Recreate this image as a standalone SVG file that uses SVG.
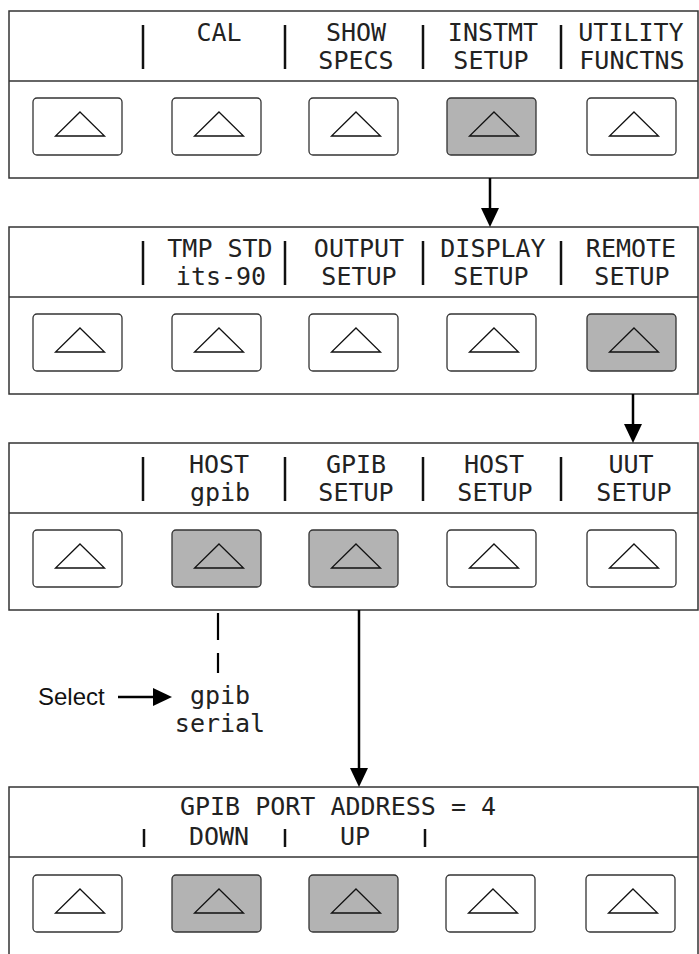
<svg xmlns="http://www.w3.org/2000/svg" width="699" height="954" viewBox="0 0 699 954">
<style>
.panel{fill:#fff;stroke:#333;stroke-width:1.5}
.div{stroke:#333;stroke-width:1.5}
.bar{stroke:#111;stroke-width:2.5}
.btn{fill:#fff;stroke:#333;stroke-width:1.3}
.btn.on{fill:#b3b3b3}
.tri{fill:none;stroke:#111;stroke-width:1.3;stroke-linejoin:miter}
.lcd{font-family:"DejaVu Sans Mono","Liberation Mono",monospace;font-size:25px;fill:#222;text-anchor:middle}
.lbl{font-family:"Liberation Sans",Arial,sans-serif;font-size:24px;fill:#111}
.conn{stroke:#000;stroke-width:2.5;fill:none}
.dash{stroke:#000;stroke-width:2.2;fill:none;stroke-dasharray:27 13}
</style>
<defs>
<marker id="ah" markerUnits="userSpaceOnUse" markerWidth="20" markerHeight="18" refX="9" refY="9" orient="auto">
<path d="M0,0 L19,9 L0,18 z" fill="#000"/>
</marker>
</defs>

<g id="panel1">
<rect class="panel" x="9" y="11" width="689" height="167"/>
<line class="div" x1="9" y1="81" x2="698" y2="81"/>
<line class="bar" x1="143" y1="25" x2="143" y2="69"/>
<line class="bar" x1="285" y1="25" x2="285" y2="69"/>
<line class="bar" x1="423" y1="25" x2="423" y2="69"/>
<line class="bar" x1="561" y1="25" x2="561" y2="69"/>
<text class="lcd" x="219" y="41">CAL</text>
<text class="lcd" x="356" y="41">SHOW</text>
<text class="lcd" x="356" y="69">SPECS</text>
<text class="lcd" x="493" y="41">INSTMT</text>
<text class="lcd" x="491" y="69">SETUP</text>
<text class="lcd" x="631" y="41">UTILITY</text>
<text class="lcd" x="632" y="69">FUNCTNS</text>
<g id="p1b1"><rect class="btn" x="33" y="98" width="89" height="57" rx="4"/><path class="tri" d="M80,112 L104.5,136 L55.5,136 z"/></g>
<g id="p1b2"><rect class="btn" x="172" y="98" width="89" height="57" rx="4"/><path class="tri" d="M219,112 L243.5,136 L194.5,136 z"/></g>
<g id="p1b3"><rect class="btn" x="309" y="98" width="89" height="57" rx="4"/><path class="tri" d="M356,112 L380.5,136 L331.5,136 z"/></g>
<g id="p1b4"><rect class="btn on" x="447" y="98" width="89" height="57" rx="4"/><path class="tri" d="M494,112 L518.5,136 L469.5,136 z"/></g>
<g id="p1b5"><rect class="btn" x="587" y="98" width="89" height="57" rx="4"/><path class="tri" d="M634,112 L658.5,136 L609.5,136 z"/></g>
</g>

<g id="panel2">
<rect class="panel" x="9" y="227" width="689" height="167"/>
<line class="div" x1="9" y1="297" x2="698" y2="297"/>
<line class="bar" x1="143" y1="241" x2="143" y2="285"/>
<line class="bar" x1="285" y1="241" x2="285" y2="285"/>
<line class="bar" x1="423" y1="241" x2="423" y2="285"/>
<line class="bar" x1="561" y1="241" x2="561" y2="285"/>
<text class="lcd" x="220" y="257">TMP STD</text>
<text class="lcd" x="221" y="285">its-90</text>
<text class="lcd" x="359" y="257">OUTPUT</text>
<text class="lcd" x="359" y="285">SETUP</text>
<text class="lcd" x="493" y="257">DISPLAY</text>
<text class="lcd" x="491" y="285">SETUP</text>
<text class="lcd" x="631" y="257">REMOTE</text>
<text class="lcd" x="632" y="285">SETUP</text>
<g id="p2b1"><rect class="btn" x="33" y="314" width="89" height="57" rx="4"/><path class="tri" d="M80,328 L104.5,352 L55.5,352 z"/></g>
<g id="p2b2"><rect class="btn" x="172" y="314" width="89" height="57" rx="4"/><path class="tri" d="M219,328 L243.5,352 L194.5,352 z"/></g>
<g id="p2b3"><rect class="btn" x="309" y="314" width="89" height="57" rx="4"/><path class="tri" d="M356,328 L380.5,352 L331.5,352 z"/></g>
<g id="p2b4"><rect class="btn" x="447" y="314" width="89" height="57" rx="4"/><path class="tri" d="M494,328 L518.5,352 L469.5,352 z"/></g>
<g id="p2b5"><rect class="btn on" x="587" y="314" width="89" height="57" rx="4"/><path class="tri" d="M634,328 L658.5,352 L609.5,352 z"/></g>
</g>

<g id="panel3">
<rect class="panel" x="9" y="443" width="689" height="167"/>
<line class="div" x1="9" y1="513" x2="698" y2="513"/>
<line class="bar" x1="143" y1="457" x2="143" y2="501"/>
<line class="bar" x1="285" y1="457" x2="285" y2="501"/>
<line class="bar" x1="423" y1="457" x2="423" y2="501"/>
<line class="bar" x1="561" y1="457" x2="561" y2="501"/>
<text class="lcd" x="219" y="473">HOST</text>
<text class="lcd" x="220" y="501">gpib</text>
<text class="lcd" x="356" y="473">GPIB</text>
<text class="lcd" x="356" y="501">SETUP</text>
<text class="lcd" x="494" y="473">HOST</text>
<text class="lcd" x="495" y="501">SETUP</text>
<text class="lcd" x="631" y="473">UUT</text>
<text class="lcd" x="634" y="501">SETUP</text>
<g id="p3b1"><rect class="btn" x="33" y="530" width="89" height="57" rx="4"/><path class="tri" d="M80,544 L104.5,568 L55.5,568 z"/></g>
<g id="p3b2"><rect class="btn on" x="172" y="530" width="89" height="57" rx="4"/><path class="tri" d="M219,544 L243.5,568 L194.5,568 z"/></g>
<g id="p3b3"><rect class="btn on" x="309" y="530" width="89" height="57" rx="4"/><path class="tri" d="M356,544 L380.5,568 L331.5,568 z"/></g>
<g id="p3b4"><rect class="btn" x="447" y="530" width="89" height="57" rx="4"/><path class="tri" d="M494,544 L518.5,568 L469.5,568 z"/></g>
<g id="p3b5"><rect class="btn" x="587" y="530" width="89" height="57" rx="4"/><path class="tri" d="M634,544 L658.5,568 L609.5,568 z"/></g>
</g>

<g id="panel4">
<rect class="panel" x="9" y="787" width="689" height="170"/>
<line class="div" x1="9" y1="857" x2="698" y2="857"/>
<text class="lcd" x="338" y="815">GPIB PORT ADDRESS = 4</text>
<line class="bar" x1="144" y1="829" x2="144" y2="847"/>
<line class="bar" x1="285" y1="829" x2="285" y2="847"/>
<line class="bar" x1="425" y1="829" x2="425" y2="847"/>
<text class="lcd" x="219" y="845">DOWN</text>
<text class="lcd" x="355" y="845">UP</text>
<g id="p4b1"><rect class="btn" x="33" y="875" width="89" height="57" rx="4"/><path class="tri" d="M80,889 L104.5,913 L55.5,913 z"/></g>
<g id="p4b2"><rect class="btn on" x="172" y="875" width="89" height="57" rx="4"/><path class="tri" d="M219,889 L243.5,913 L194.5,913 z"/></g>
<g id="p4b3"><rect class="btn on" x="309" y="875" width="89" height="57" rx="4"/><path class="tri" d="M356,889 L380.5,913 L331.5,913 z"/></g>
<g id="p4b4"><rect class="btn" x="446" y="875" width="89" height="57" rx="4"/><path class="tri" d="M493,889 L517.5,913 L468.5,913 z"/></g>
<g id="p4b5"><rect class="btn" x="586" y="875" width="89" height="57" rx="4"/><path class="tri" d="M633,889 L657.5,913 L608.5,913 z"/></g>
</g>

<g id="options">
<text class="lbl" x="38" y="705">Select</text>
<text class="lcd" x="220" y="704">gpib</text>
<text class="lcd" x="220" y="732">serial</text>
</g>

<g id="connectors">
<line class="conn" x1="490" y1="178" x2="490" y2="217" marker-end="url(#ah)"/>
<line class="conn" x1="633" y1="394" x2="633" y2="433" marker-end="url(#ah)"/>
<line class="conn" x1="359" y1="610" x2="359" y2="777" marker-end="url(#ah)"/>
<line class="conn" x1="118" y1="697" x2="162" y2="697" marker-end="url(#ah)"/>
<line class="dash" x1="218" y1="613" x2="218" y2="673"/>
</g>
</svg>
